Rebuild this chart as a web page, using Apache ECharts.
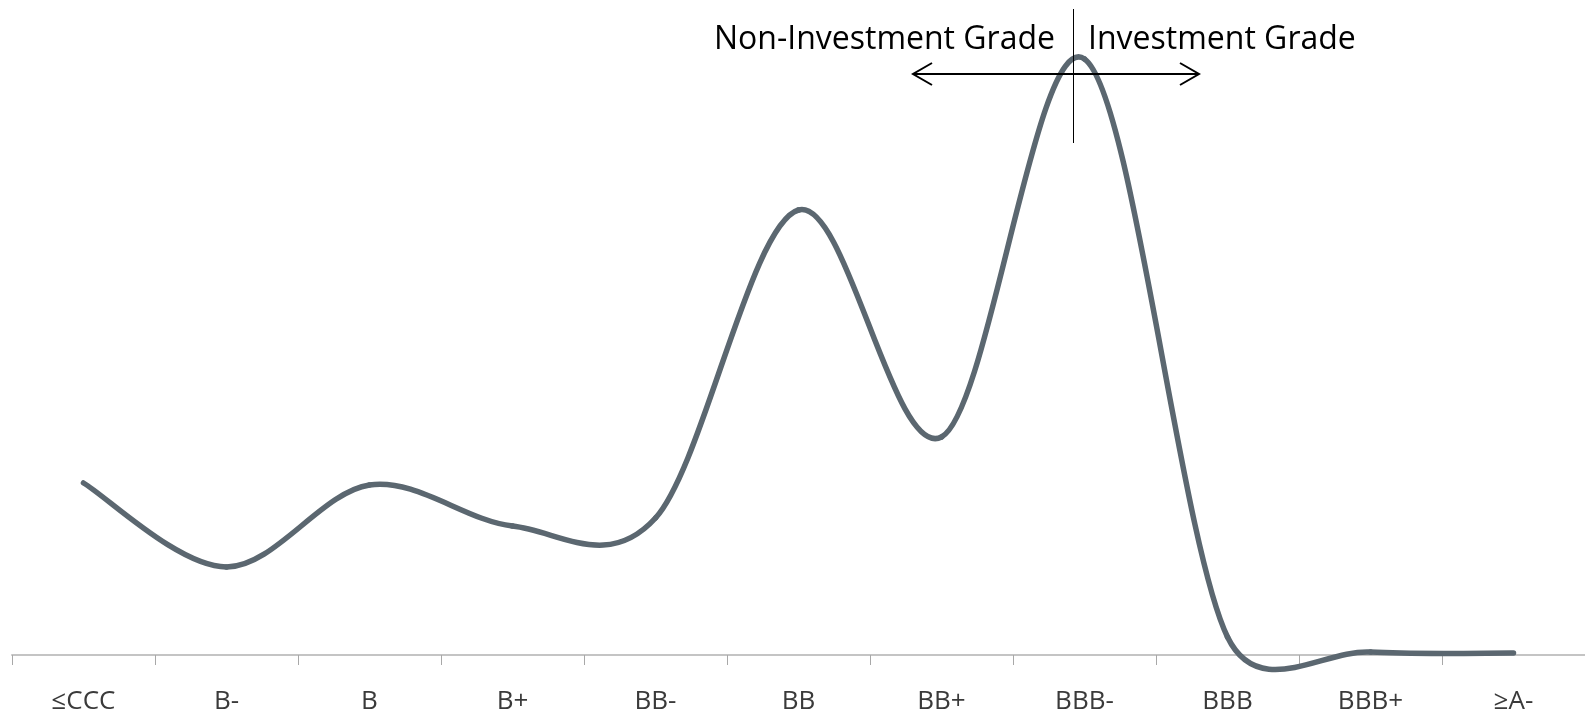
<!DOCTYPE html>
<html>
<head>
<meta charset="utf-8">
<script src="https://cdn.jsdelivr.net/npm/echarts@6/dist/echarts.min.js"></script>
<style>
  html, body { margin: 0; padding: 0; background: #ffffff; }
  #chart { width: 1585px; height: 717px; }
</style>
</head>
<body>
<div id="chart"></div>
<script>
// Rating categories (x axis)
const categories = ['≤CCC', 'B-', 'B', 'B+', 'BB-', 'BB', 'BB+', 'BBB-', 'BBB', 'BBB+', '≥A-'];
// Distribution values (arbitrary units)
const values = [8.6, 4.4, 8.5, 6.45, 6.85, 22.25, 10.9, 29.8, 0.9, 0.15, 0.1];
// Annotation texts
const leftLabel = 'Non-Investment Grade';
const rightLabel = 'Investment Grade';

const chart = echarts.init(document.getElementById('chart'));
const fontFam = '"Open Sans", "Noto Sans", sans-serif';
const labelFam = '"Liberation Sans Narrow", "Open Sans", sans-serif';
const LINE_COLOR = '#5b6770';

// Spreadsheet-style smoothed segment between point i and i+1 (control points from neighbours)
function segmentControl(P, i) {
  const n = P.length;
  const p0 = P[Math.max(i - 1, 0)], p1 = P[i], p2 = P[i + 1], p3 = P[Math.min(i + 2, n - 1)];
  const segLen = Math.hypot(p2[0] - p1[0], p2[1] - p1[1]);
  const t1 = [p2[0] - p0[0], p2[1] - p0[1]];
  const t2 = [p3[0] - p1[0], p3[1] - p1[1]];
  const l1 = Math.hypot(t1[0], t1[1]) || 1;
  const l2 = Math.hypot(t2[0], t2[1]) || 1;
  let f1 = 1 / 6, f2 = 1 / 6;
  if (l1 / 6 > segLen / 2) f1 = segLen / (2 * l1);
  if (l2 / 6 > segLen / 2) f2 = segLen / (2 * l2);
  return {
    x1: p1[0], y1: p1[1], x2: p2[0], y2: p2[1],
    cpx1: p1[0] + t1[0] * f1, cpy1: p1[1] + t1[1] * f1,
    cpx2: p2[0] - t2[0] * f2, cpy2: p2[1] - t2[1] * f2
  };
}

chart.setOption({
  backgroundColor: '#ffffff',
  animation: false,
  grid: { left: 12, right: 0, top: 15, bottom: 62, containLabel: false },
  xAxis: {
    type: 'category',
    data: categories,
    boundaryGap: true,
    axisLine: { show: true, lineStyle: { color: '#c4c4c4', width: 2 } },
    axisTick: { show: true, alignWithLabel: false, interval: 0, length: 10, lineStyle: { color: '#a8a8a8', width: 1 } },
    axisLabel: { interval: 0, margin: 34, color: '#3a3a3a', fontSize: 26, fontFamily: labelFam },
    splitLine: { show: false }
  },
  yAxis: {
    type: 'value',
    min: 0,
    max: 32,
    show: false,
    splitLine: { show: false }
  },
  series: [{
    type: 'custom',
    coordinateSystem: 'cartesian2d',
    clip: false,
    data: values.map((v, i) => [i, v]),
    encode: { x: 0, y: 1 },
    renderItem: function (params, api) {
      const i = params.dataIndex;
      if (i >= values.length - 1) return null;
      const P = values.map((v, j) => api.coord([j, v]));
      return {
        type: 'bezierCurve',
        shape: segmentControl(P, i),
        style: { stroke: LINE_COLOR, lineWidth: 5.5, fill: null, lineCap: 'round' }
      };
    }
  }],
  graphic: [
    { type: 'line', shape: { x1: 1073.5, y1: 9, x2: 1073.5, y2: 143 }, style: { stroke: '#000', lineWidth: 1 }, z: 100 },
    { type: 'line', shape: { x1: 913, y1: 74, x2: 1199, y2: 74 }, style: { stroke: '#000', lineWidth: 2 }, z: 100 },
    { type: 'polyline', shape: { points: [[932, 63], [913, 74], [932, 85]] }, style: { stroke: '#000', lineWidth: 2, fill: null }, z: 100 },
    { type: 'polyline', shape: { points: [[1180, 63], [1199, 74], [1180, 85]] }, style: { stroke: '#000', lineWidth: 2, fill: null }, z: 100 },
    { type: 'text', x: 1055, y: 40, style: { text: leftLabel, fill: '#000', font: '32px ' + fontFam, textAlign: 'right', textVerticalAlign: 'middle' }, z: 100 },
    { type: 'text', x: 1088, y: 40, style: { text: rightLabel, fill: '#000', font: '32px ' + fontFam, textAlign: 'left', textVerticalAlign: 'middle' }, z: 100 }
  ]
});
</script>
</body>
</html>
